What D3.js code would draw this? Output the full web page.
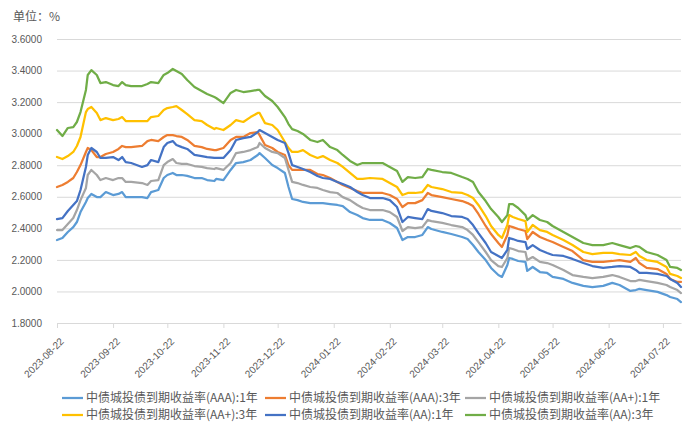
<!DOCTYPE html>
<html>
<head>
<meta charset="utf-8">
<script src="https://cdn.jsdelivr.net/npm/d3@7"></script>
<style>
  body { margin: 0; background: #fff; }
  svg { display: block; }
</style>
</head>
<body>
<svg id="chart" width="700" height="427"></svg>
<script>
const dates = [
  "2023-08-22","2023-08-25","2023-08-28","2023-08-31","2023-09-02","2023-09-04","2023-09-07","2023-09-08","2023-09-10","2023-09-13",
  "2023-09-15","2023-09-18","2023-09-22","2023-09-25","2023-09-27","2023-09-29","2023-10-02","2023-10-08","2023-10-11","2023-10-13",
  "2023-10-17","2023-10-20","2023-10-22","2023-10-25","2023-10-27","2023-10-30","2023-11-02","2023-11-06","2023-11-10","2023-11-13",
  "2023-11-17","2023-11-18","2023-11-22","2023-11-26","2023-11-29","2023-12-03","2023-12-07","2023-12-11","2023-12-12","2023-12-15",
  "2023-12-19","2023-12-22","2023-12-26","2023-12-28","2023-12-30","2024-01-02","2024-01-05","2024-01-09","2024-01-13","2024-01-16",
  "2024-01-20","2024-01-24","2024-01-27","2024-01-31","2024-02-04","2024-02-07","2024-02-11","2024-02-18","2024-02-22","2024-02-26",
  "2024-02-29","2024-03-03","2024-03-07","2024-03-11","2024-03-14","2024-03-16","2024-03-22","2024-03-27","2024-04-02","2024-04-05",
  "2024-04-08","2024-04-11","2024-04-15","2024-04-18","2024-04-22","2024-04-24","2024-04-27","2024-04-28","2024-04-30","2024-05-03",
  "2024-05-07","2024-05-08","2024-05-11","2024-05-15","2024-05-19","2024-05-22","2024-05-28","2024-06-02","2024-06-08","2024-06-13",
  "2024-06-19","2024-06-24","2024-06-28","2024-07-04","2024-07-07","2024-07-09","2024-07-13","2024-07-19","2024-07-24","2024-07-26",
  "2024-07-30","2024-08-01"
];

// AAA 1年
const aaa1 = [
  2.326,2.339,2.377,2.408,2.440,2.503,2.567,2.592,2.618,2.598,
  2.598,2.630,2.611,2.618,2.630,2.598,2.598,2.598,2.592,2.630,
  2.643,2.719,2.738,2.751,2.738,2.738,2.732,2.719,2.719,2.706,
  2.700,2.713,2.706,2.770,2.814,2.820,2.833,2.865,2.877,2.846,
  2.801,2.782,2.751,2.662,2.586,2.579,2.567,2.560,2.560,2.560,
  2.554,2.548,2.541,2.503,2.484,2.465,2.453,2.453,2.434,2.402,
  2.326,2.345,2.345,2.358,2.408,2.396,2.377,2.364,2.345,2.332,
  2.294,2.250,2.199,2.149,2.104,2.092,2.168,2.212,2.206,2.193,
  2.187,2.130,2.155,2.123,2.117,2.092,2.079,2.054,2.035,2.028,
  2.035,2.054,2.041,2.003,2.009,2.016,2.009,1.997,1.977,1.965,
  1.952,1.933
];
// AAA 3年
const aaa3 = [
  2.662,2.675,2.694,2.719,2.757,2.801,2.884,2.909,2.896,2.852,
  2.852,2.871,2.884,2.903,2.922,2.915,2.915,2.922,2.953,2.960,
  2.953,2.979,2.991,2.991,2.985,2.979,2.960,2.922,2.915,2.903,
  2.896,2.896,2.909,2.960,2.979,2.979,3.004,3.010,2.991,2.928,
  2.909,2.884,2.865,2.801,2.770,2.770,2.770,2.770,2.744,2.738,
  2.719,2.694,2.675,2.656,2.637,2.624,2.624,2.624,2.611,2.586,
  2.535,2.560,2.560,2.579,2.624,2.611,2.598,2.586,2.573,2.560,
  2.541,2.491,2.415,2.364,2.307,2.282,2.358,2.415,2.408,2.396,
  2.383,2.332,2.377,2.345,2.326,2.313,2.282,2.256,2.199,2.187,
  2.187,2.193,2.199,2.187,2.212,2.180,2.149,2.142,2.111,2.079,
  2.060,2.060
];
// AA+ 1年
const aap1 = [
  2.389,2.389,2.427,2.465,2.516,2.579,2.656,2.738,2.770,2.738,
  2.706,2.719,2.706,2.719,2.719,2.694,2.694,2.687,2.675,2.700,
  2.706,2.801,2.820,2.839,2.814,2.808,2.808,2.795,2.789,2.782,
  2.776,2.782,2.770,2.814,2.877,2.884,2.896,2.915,2.941,2.909,
  2.884,2.877,2.846,2.770,2.694,2.687,2.675,2.662,2.656,2.643,
  2.630,2.624,2.598,2.579,2.548,2.529,2.516,2.516,2.503,2.472,
  2.383,2.408,2.402,2.408,2.453,2.446,2.434,2.421,2.408,2.389,
  2.358,2.313,2.250,2.199,2.161,2.155,2.212,2.275,2.269,2.256,
  2.250,2.199,2.218,2.187,2.180,2.168,2.136,2.104,2.092,2.085,
  2.092,2.104,2.092,2.066,2.066,2.073,2.066,2.054,2.041,2.028,
  2.009,1.990
];
// AA+ 3年
const aap3 = [
  2.852,2.839,2.858,2.884,2.922,2.979,3.137,3.156,3.169,3.131,
  3.086,3.099,3.086,3.093,3.105,3.080,3.080,3.080,3.080,3.105,
  3.112,3.150,3.162,3.169,3.175,3.150,3.124,3.086,3.080,3.055,
  3.029,3.036,3.023,3.055,3.086,3.074,3.105,3.131,3.131,3.067,
  3.055,3.023,2.947,2.909,2.884,2.884,2.896,2.865,2.846,2.858,
  2.833,2.814,2.789,2.751,2.713,2.713,2.719,2.713,2.687,2.662,
  2.611,2.624,2.624,2.630,2.675,2.662,2.649,2.630,2.624,2.611,
  2.592,2.548,2.478,2.415,2.358,2.339,2.421,2.484,2.472,2.459,
  2.446,2.377,2.421,2.389,2.377,2.358,2.326,2.294,2.250,2.237,
  2.244,2.244,2.237,2.231,2.250,2.225,2.199,2.187,2.155,2.111,
  2.098,2.085
];
// AA 1年
const aa1 = [
  2.459,2.465,2.510,2.548,2.573,2.643,2.789,2.865,2.909,2.884,
  2.846,2.846,2.852,2.833,2.852,2.820,2.814,2.789,2.801,2.833,
  2.820,2.915,2.941,2.953,2.928,2.915,2.903,2.865,2.858,2.852,
  2.846,2.846,2.846,2.896,2.960,2.972,2.979,3.010,3.023,3.004,
  2.979,2.960,2.941,2.877,2.801,2.789,2.776,2.757,2.732,2.719,
  2.713,2.694,2.681,2.662,2.630,2.611,2.592,2.592,2.579,2.535,
  2.440,2.472,2.465,2.459,2.522,2.510,2.497,2.478,2.472,2.459,
  2.421,2.370,2.307,2.250,2.225,2.212,2.263,2.339,2.332,2.320,
  2.313,2.269,2.294,2.263,2.244,2.231,2.225,2.206,2.180,2.161,
  2.149,2.155,2.161,2.155,2.136,2.117,2.117,2.111,2.098,2.079,
  2.054,2.028
];
// AA 3年
const aa3 = [
  3.023,2.985,3.036,3.042,3.074,3.137,3.277,3.372,3.403,3.372,
  3.321,3.327,3.308,3.302,3.327,3.308,3.302,3.302,3.315,3.327,
  3.321,3.372,3.384,3.410,3.397,3.378,3.340,3.296,3.270,3.251,
  3.232,3.226,3.194,3.258,3.277,3.264,3.270,3.277,3.277,3.239,
  3.207,3.169,3.105,3.061,3.029,3.017,2.998,2.960,2.947,2.960,
  2.915,2.896,2.865,2.827,2.801,2.814,2.814,2.814,2.789,2.763,
  2.694,2.725,2.719,2.725,2.776,2.770,2.757,2.751,2.725,2.713,
  2.694,2.630,2.573,2.522,2.472,2.440,2.484,2.554,2.554,2.529,
  2.484,2.453,2.484,2.453,2.440,2.415,2.377,2.345,2.307,2.294,
  2.294,2.307,2.294,2.275,2.288,2.282,2.250,2.231,2.199,2.155,
  2.149,2.136
];

const seriesNames = [
  "中债城投债到期收益率(AAA):1年",
  "中债城投债到期收益率(AAA):3年",
  "中债城投债到期收益率(AA+):1年",
  "中债城投债到期收益率(AA+):3年",
  "中债城投债到期收益率(AA):1年",
  "中债城投债到期收益率(AA):3年"
];
const seriesValues = [aaa1, aaa3, aap1, aap3, aa1, aa3];
const seriesColors = ["#5b9bd5", "#ed7d31", "#a5a5a5", "#ffc000", "#4472c4", "#70ad47"];

const yTicks = [1.8, 2.0, 2.2, 2.4, 2.6, 2.8, 3.0, 3.2, 3.4, 3.6];
const xTicks = ["2023-08-22","2023-09-22","2023-10-22","2023-11-22","2023-12-22","2024-01-22",
                "2024-02-22","2024-03-22","2024-04-22","2024-05-22","2024-06-22","2024-07-22"];
const unitLabel = "单位：%";

const font = "'Noto Sans CJK SC', 'Noto Sans', sans-serif";
const grid = "#d9d9d9";
const textColor = "#595959";

const plot = {left: 57, right: 681, top: 39, bottom: 323};

const svg = d3.select("#chart");
const parse = d3.timeParse("%Y-%m-%d");

const x = d3.scaleTime()
    .domain(d3.extent(dates, parse))
    .range([plot.left, plot.right]);

const y = d3.scaleLinear()
    .domain([yTicks[0], yTicks[yTicks.length - 1]])
    .range([plot.bottom, plot.top]);

// unit label
svg.append("text")
    .attr("x", 13)
    .attr("y", 21)
    .attr("font-family", font)
    .attr("font-size", 12)
    .attr("fill", textColor)
    .text(unitLabel);

// y axis + gridlines
svg.append("g")
    .attr("transform", `translate(${plot.left},0)`)
    .attr("font-family", font)
    .attr("font-size", 11)
    .call(d3.axisLeft(y)
        .tickValues(yTicks)
        .tickFormat(d3.format(".4f"))
        .tickSize(-(plot.right - plot.left))
        .tickPadding(15))
    .call(g => g.select(".domain").remove())
    .call(g => g.selectAll(".tick line").attr("stroke", grid))
    .call(g => g.selectAll(".tick text").attr("fill", textColor));

// x axis
svg.append("g")
    .attr("transform", `translate(0,${plot.bottom})`)
    .attr("font-family", font)
    .attr("font-size", 12)
    .call(d3.axisBottom(x)
        .tickValues(xTicks.map(parse))
        .tickFormat(d3.timeFormat("%Y-%m-%d"))
        .tickSize(5)
        .tickSizeOuter(0))
    .call(g => g.select(".domain").attr("stroke", grid))
    .call(g => g.selectAll(".tick line").attr("stroke", grid))
    .call(g => g.selectAll(".tick text")
        .attr("fill", textColor)
        .attr("text-anchor", "end")
        .attr("y", 0)
        .attr("dy", 0)
        .attr("transform", "translate(7,19) rotate(-45)"));

// lines
const line = d3.line()
    .x((d, i) => x(parse(dates[i])))
    .y(d => y(d));

svg.append("g")
    .attr("fill", "none")
    .attr("stroke-width", 2.25)
    .attr("stroke-linejoin", "round")
    .attr("stroke-linecap", "round")
    .selectAll("path")
    .data(seriesValues)
    .join("path")
    .attr("stroke", (d, i) => seriesColors[i])
    .attr("d", line);

// legend: 3 columns, 2 rows
const colX = [62, 265, 465];
const rowY = [398, 415];
const legend = svg.append("g")
    .attr("font-family", font)
    .attr("font-size", 12)
    .selectAll("g")
    .data(seriesNames)
    .join("g")
    .attr("transform", (d, i) => `translate(${colX[i % 3]},${rowY[Math.floor(i / 3)]})`);

legend.append("line")
    .attr("x1", 0)
    .attr("x2", 21)
    .attr("stroke", (d, i) => seriesColors[i])
    .attr("stroke-width", 2.25);

legend.append("text")
    .attr("x", 24)
    .attr("dy", "0.35em")
    .attr("fill", textColor)
    .text(d => d);
</script>
</body>
</html>
